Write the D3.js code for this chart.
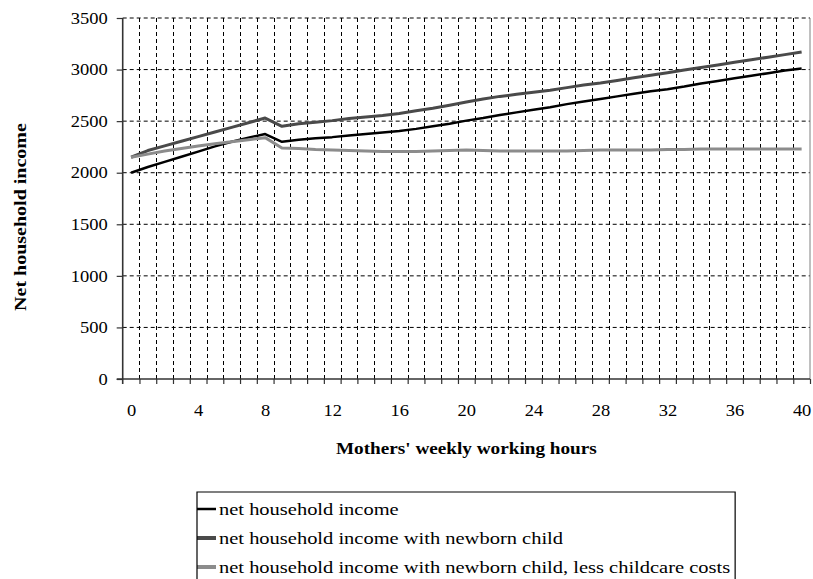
<!DOCTYPE html>
<html><head><meta charset="utf-8">
<script src="https://cdn.jsdelivr.net/npm/d3@7"></script>
<style>
html,body{margin:0;padding:0;background:#fff;}
text{font-family:"Liberation Serif","Times New Roman",serif;fill:#000;}
</style></head>
<body>
<svg id="chart" width="813" height="579"></svg>
<script>
// ---- data ----
const hours = d3.range(0, 41); // 0..40
const xLabels = [0,4,8,12,16,20,24,28,32,36,40];
const yTicks = [0,500,1000,1500,2000,2500,3000,3500];
const seriesNames = [
  "net household income",
  "net household income with newborn child",
  "net household income with newborn child, less childcare costs"
];
const netIncome = [2000,2055,2105,2155,2205,2255,2300,2340,2375,2300,2320,2335,2345,2360,2375,2390,2405,2425,2450,2475,2505,2530,2560,2585,2610,2635,2665,2690,2715,2740,2765,2790,2810,2835,2865,2890,2915,2940,2965,2990,3010];
const withNewborn = [2150,2215,2260,2305,2350,2395,2440,2485,2530,2450,2475,2490,2505,2525,2540,2555,2575,2600,2625,2655,2685,2715,2740,2760,2780,2800,2825,2850,2870,2895,2920,2945,2970,2995,3020,3045,3070,3095,3120,3145,3170];
const lessChildcare = [2150,2180,2210,2235,2260,2280,2300,2320,2340,2240,2235,2225,2220,2215,2210,2205,2205,2205,2210,2215,2220,2215,2210,2210,2210,2210,2210,2215,2220,2220,2220,2220,2225,2225,2230,2230,2230,2230,2230,2230,2230];
const seriesColors = ["#000000","#4a4a4a","#8c8c8c"];
const seriesWidths = [2.5,3,3];

const svg = d3.select("#chart");
const L = 122.7, R = 810, T = 18, B = 379;
const x = d3.scaleLinear().domain([-0.5, 40.5]).range([L, R]);
const y = d3.scaleLinear().domain([0, 3500]).range([B, T]);

// helper: horizontal stretch of text to mimic reference font width
function stretch(sel, k){
  sel.each(function(){
    const w = this.getComputedTextLength();
    d3.select(this).attr("textLength", w*k).attr("lengthAdjust","spacingAndGlyphs");
  });
}

// gridlines
const grid = svg.append("g");
grid.selectAll("line.h").data(yTicks.filter(v=>v>0)).join("line")
  .attr("x1", L).attr("x2", R).attr("y1", d=>y(d)).attr("y2", d=>y(d))
  .attr("stroke","#000").attr("stroke-width",1).attr("stroke-dasharray","4,3");
const bounds = d3.range(0, 41).map(i=>i+0.5);
grid.selectAll("line.v").data(bounds.slice(0,40)).join("line")
  .attr("x1", d=>Math.round(x(d))+0.5).attr("x2", d=>Math.round(x(d))+0.5).attr("y1", T).attr("y2", B)
  .attr("stroke","#000").attr("stroke-width",1).attr("stroke-dasharray","4,3");
// right border
svg.append("line").attr("x1",R).attr("x2",R).attr("y1",T).attr("y2",B).attr("stroke","#808080").attr("stroke-width",1);

// axes
const xAxisTicks = svg.append("g").attr("transform",`translate(0,${B})`)
  .call(d3.axisBottom(x).tickValues(bounds).tickSize(5).tickFormat(""));
xAxisTicks.select(".domain").remove();
xAxisTicks.selectAll("line").attr("stroke","#333").attr("stroke-width",1.2);
svg.append("line").attr("x1",L-6).attr("x2",R).attr("y1",B).attr("y2",B).attr("stroke","#333").attr("stroke-width",1.6);

const xAxisLab = svg.append("g").attr("transform",`translate(0,${B})`)
  .call(d3.axisBottom(x).tickValues(xLabels).tickSize(0).tickPadding(25).tickFormat(d3.format("d")));
xAxisLab.select(".domain").remove();
xAxisLab.selectAll("text").attr("font-size",16.5).attr("font-family","Liberation Serif").attr("fill","#000");
stretch(xAxisLab.selectAll("text"), 1.12);

const yAxis = svg.append("g").attr("transform",`translate(${L},0)`)
  .call(d3.axisLeft(y).tickValues(yTicks).tickSize(6).tickPadding(9).tickFormat(d3.format("d")));
yAxis.select(".domain").remove();
yAxis.selectAll("line").attr("stroke","#333").attr("stroke-width",1.2);
yAxis.selectAll("text").attr("font-size",16.5).attr("font-family","Liberation Serif").attr("fill","#000");
stretch(yAxis.selectAll("text"), 1.12);
svg.append("line").attr("x1",L).attr("x2",L).attr("y1",T).attr("y2",B+5).attr("stroke","#333").attr("stroke-width",1.6);

// lines
const allSeries = [netIncome, withNewborn, lessChildcare];
const line = d3.line().x((d,i)=>x(hours[i])).y(d=>y(d));
svg.append("g").selectAll("path").data(allSeries).join("path")
  .attr("d", d=>line(d)).attr("fill","none")
  .attr("stroke",(d,i)=>seriesColors[i]).attr("stroke-width",(d,i)=>seriesWidths[i])
  .attr("stroke-linejoin","round");

// axis titles
const xt = svg.append("text").attr("x",(L+R)/2).attr("y",448).attr("dy","0.35em")
  .attr("text-anchor","middle").attr("font-size",16).attr("font-weight","bold")
  .text("Mothers' weekly working hours");
stretch(xt, 1.2);
const yt = svg.append("text").attr("transform","translate(20,217) rotate(-90)").attr("dy","0.35em")
  .attr("text-anchor","middle").attr("font-size",16).attr("font-weight","bold")
  .text("Net household income");
stretch(yt, 1.25);

// legend
const legX = 197, legTop = 492, rowY = [509,538,567];
const leg = svg.append("g");
const legTexts = leg.selectAll("text").data(seriesNames).join("text")
  .attr("x", 219).attr("y",(d,i)=>rowY[i]).attr("dy","0.35em").attr("font-size",16).text(d=>d);
// width target: "net household income with newborn child" ≈ 344px
const tmp = svg.append("text").attr("font-size",16).text(seriesNames[1]);
const kLeg = 344 / tmp.node().getComputedTextLength();
tmp.remove();
stretch(legTexts, kLeg);
let maxW = 0; legTexts.each(function(){ maxW = Math.max(maxW, +this.getAttribute("textLength")); });
const legR = 219 + maxW + 5;
leg.selectAll("line.sym").data(seriesNames).join("line")
  .attr("x1", legX).attr("x2", 216).attr("y1",(d,i)=>rowY[i]).attr("y2",(d,i)=>rowY[i])
  .attr("stroke",(d,i)=>seriesColors[i]).attr("stroke-width",(d,i)=>i===0?2.5:4);
leg.append("path").attr("d",`M${legX},${579}V${legTop}H${legR}V${579}`)
  .attr("fill","none").attr("stroke","#000").attr("stroke-width",1.2);
</script>
</body></html>
